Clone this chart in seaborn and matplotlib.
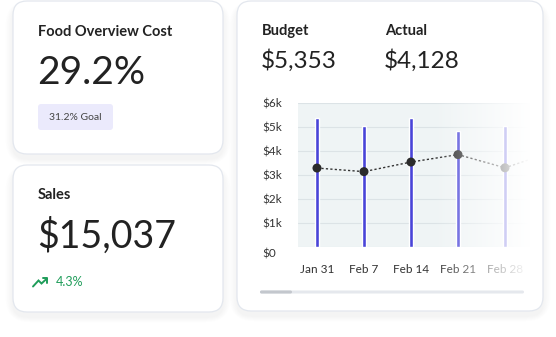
import numpy as np
import pandas as pd
import matplotlib
matplotlib.use("Agg")
import matplotlib.pyplot as plt
import seaborn as sns
from matplotlib.patches import FancyBboxPatch
from matplotlib.transforms import Bbox, TransformedBbox, ScaledTranslation
from matplotlib.lines import Line2D

# ---------------- data ----------------
weeks = ["Jan 31", "Feb 7", "Feb 14", "Feb 21", "Feb 28", "Mar 7"]
budget = [5370, 5040, 5370, 4830, 5040, 5000]
actual = [3290, 3140, 3540, 3850, 3300, 3960]
y_ticks = [0, 1000, 2000, 3000, 4000, 5000, 6000]
y_tick_labels = ["$0", "$1k", "$2k", "$3k", "$4k", "$5k", "$6k"]

food_title = "Food Overview Cost"
food_value = "29.2%"
food_goal = "31.2% Goal"
sales_title = "Sales"
sales_value = "$15,037"
sales_change = "4.3%"
budget_title = "Budget"
budget_value = "$5,353"
actual_title = "Actual"
actual_value = "$4,128"

W, H = 556, 337
sns.set_theme(style="white")
plt.rcParams['font.family'] = ['Lato', 'DejaVu Sans']

fig = plt.figure(figsize=(W / 100, H / 100), dpi=100)
fig.patch.set_facecolor('white')

bg = fig.add_axes([0, 0, 1, 1], zorder=0)
bg.set_xlim(0, W)
bg.set_ylim(H, 0)
bg.axis('off')


def px2fig(x0, y0, x1, y1):
    return [x0 / W, 1 - y1 / H, (x1 - x0) / W, (y1 - y0) / H]


def card(x0, y0, x1, y1, r=14):
    for k in range(1, 12):
        bg.add_patch(FancyBboxPatch((x0 - k * 0.7, y0 - k * 0.5 + 5), x1 - x0 + 1.4 * k, y1 - y0 + k,
                                    boxstyle=f"round,pad=0,rounding_size={r + k}",
                                    facecolor='#1c2a4a', edgecolor='none', alpha=0.005))
    bg.add_patch(FancyBboxPatch((x0, y0), x1 - x0, y1 - y0,
                                boxstyle=f"round,pad=0,rounding_size={r}",
                                facecolor='white', edgecolor='#e3e7ee', linewidth=0.9))


card(13, 1, 223, 154)
card(13, 165, 223, 312)
card(237, 1, 543, 311)

dark = '#222222'
# card 1
bg.text(38, 35.5, food_title, fontsize=10.5, fontweight='bold', color=dark, va='baseline')
bg.text(37, 84, food_value, fontsize=28, fontweight='normal', color=dark, va='baseline')
bg.add_patch(FancyBboxPatch((38, 104), 75, 26, boxstyle="round,pad=0,rounding_size=3",
                            facecolor='#ebeafc', edgecolor='none'))
bg.text(75.5, 117.5, food_goal, fontsize=7.5, color='#444444', ha='center', va='center')

# card 2
bg.text(38, 199, sales_title, fontsize=10.5, fontweight='bold', color=dark, va='baseline')
bg.text(37, 247.5, sales_value, fontsize=27, fontweight='normal', color=dark, va='baseline')
green = '#1f9d5a'
bg.add_line(Line2D([33, 38.5, 41.5, 47], [286.5, 280.5, 283.5, 278.5], color=green, lw=1.4,
                   solid_joinstyle='miter'))
bg.add_line(Line2D([43, 47.3, 47.3], [278.3, 278.3, 282.5], color=green, lw=1.4))
bg.text(56, 282, sales_change, fontsize=9, color=green, va='center')

# card 3 headers
bg.text(262, 35, budget_title, fontsize=10.5, fontweight='bold', color=dark, va='baseline')
bg.text(385, 35, actual_title, fontsize=10.5, fontweight='bold', color=dark, va='baseline')
bg.text(261, 67.5, budget_value, fontsize=17.5, color=dark, va='baseline')
bg.text(384, 67.5, actual_value, fontsize=17.5, color=dark, va='baseline')

# scrollbar
bg.add_patch(FancyBboxPatch((260, 290.5), 264, 3, boxstyle="round,pad=0,rounding_size=1.5",
                            facecolor='#e5e8ed', edgecolor='none'))
bg.add_patch(FancyBboxPatch((260, 290.5), 32, 3, boxstyle="round,pad=0,rounding_size=1.5",
                            facecolor='#c3c7cd', edgecolor='none'))

# ---------------- chart ----------------
ax = fig.add_axes(px2fig(298, 103, 537, 247), zorder=2)
df = pd.DataFrame({"week": weeks, "budget": budget, "actual": actual, "pos": np.arange(len(weeks))})
sns.barplot(data=df, x="week", y="budget", color="#4944d8", saturation=1, width=0.1, ax=ax, zorder=2)
sns.lineplot(data=df, x="pos", y="actual", color='#333333', lw=1.0, linestyle=(0, (1.6, 1.6)),
             ax=ax, zorder=3)
sns.scatterplot(data=df, x="pos", y="actual", color='#2b2b2b', s=42, edgecolor='none', ax=ax, zorder=4)

ax.set_facecolor('#eff4f5')
for s in ax.spines.values():
    s.set_visible(False)
ax.set_yticks(y_ticks, y_tick_labels)
ax.set_xticks(range(len(weeks)), weeks)
ax.grid(axis='y', color='#dce3e6', lw=0.8)
ax.grid(axis='x', visible=False)
ax.set_axisbelow(True)
ax.set_xlabel('')
ax.set_ylabel('')
ax.tick_params(axis='y', length=0, pad=26, labelsize=8.5, labelcolor='#333333')
ax.tick_params(axis='x', length=0, pad=12.5, labelsize=8.5, labelcolor='#333333')
for lbl in ax.get_yticklabels():
    lbl.set_ha('left')
ylabs = ax.get_yticklabels()
ylabs[0].set_transform(ylabs[0].get_transform() + ScaledTranslation(0, -6 / 100, fig.dpi_scale_trans))
clip = TransformedBbox(Bbox([[0, 0], [533 / W, 1]]), fig.transFigure)
for lbl in ax.get_xticklabels():
    lbl.set_clip_box(clip)
    lbl.set_clip_on(True)
ax.autoscale(False)
ax.set_xlim(-0.404, (537 - 317) / 47)
ax.set_ylim(0, 6000)

# fade overlay on the right
ox0, ox1 = 425, 538
ov = fig.add_axes(px2fig(ox0, 95, ox1, 282), zorder=5)
xs = np.linspace(ox0, ox1, 256)
grad = np.ones((2, 256, 4))
grad[..., 3] = np.clip((xs - 433) / (530 - 433), 0, 1)
ov.imshow(grad, extent=[0, 1, 0, 1], aspect='auto', interpolation='bilinear')
ov.axis('off')

fig.savefig("out.png", dpi=100, facecolor='white')
